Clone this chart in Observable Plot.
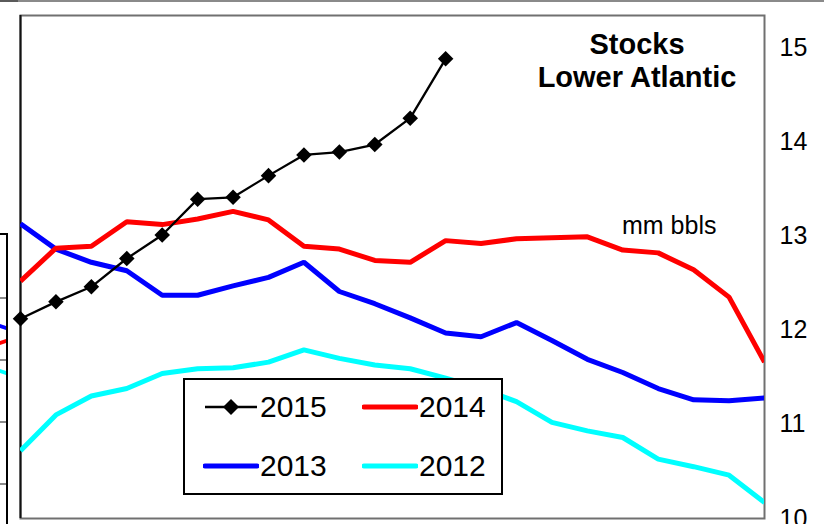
<!DOCTYPE html>
<html>
<head>
<meta charset="utf-8">
<script src="https://cdn.jsdelivr.net/npm/d3@7"></script>
<script src="https://cdn.jsdelivr.net/npm/@observablehq/plot@0.6"></script>
<style>
html, body { margin: 0; padding: 0; background: #fff; overflow: hidden; }
#wrap { position: relative; width: 824px; height: 524px; font-family: "Liberation Sans", Arial, sans-serif; color: #000; overflow: hidden; }
#wrap svg { display: block; }
.abs { position: absolute; }
#title { left: 637px; top: 28px; transform: translateX(-50%); font-weight: bold; font-size: 29px; line-height: 33px; text-align: center; white-space: nowrap; }
#unit { left: 622px; top: 211px; font-size: 25px; line-height: 28px; white-space: nowrap; }
#legend { left: 183px; top: 378px; width: 320px; height: 117px; box-sizing: border-box; border: 2px solid #000; background: #fff; }
#legend .item { position: absolute; height: 30px; }
#legend .item svg { position: absolute; left: 0; top: 0; }
#legend .item span { position: absolute; top: 0; font-size: 30px; line-height: 30px; white-space: nowrap; }
</style>
</head>
<body>
<div id="wrap"></div>
<script>
// ---- data ----
const weeks = [1, 2, 3, 4, 5, 6, 7, 8, 9, 10, 11, 12, 13, 14, 15, 16, 17, 18, 19, 20, 21, 22];
const seriesNames = ["2015", "2014", "2013", "2012"];
const seriesColors = ["#000000", "#FF0000", "#0000FF", "#00FFFF"];
const v2015 = [12.12, 12.30, 12.46, 12.76, 13.01, 13.39, 13.41, 13.64, 13.86, 13.89, 13.97, 14.25, 14.88];
const v2014 = [12.52, 12.87, 12.89, 13.15, 13.12, 13.18, 13.26, 13.17, 12.89, 12.86, 12.74, 12.72, 12.95, 12.92, 12.97, 12.98, 12.99, 12.85, 12.82, 12.64, 12.35, 11.66];
const v2013 = [13.13, 12.86, 12.72, 12.63, 12.37, 12.37, 12.47, 12.56, 12.72, 12.41, 12.28, 12.13, 11.97, 11.93, 12.08, 11.89, 11.69, 11.55, 11.38, 11.26, 11.25, 11.28];
const v2012 = [10.72, 11.10, 11.30, 11.38, 11.54, 11.59, 11.60, 11.66, 11.79, 11.70, 11.63, 11.59, 11.49, 11.38, 11.24, 11.02, 10.93, 10.86, 10.63, 10.55, 10.46, 10.17];
const yTicks = [10, 11, 12, 13, 14, 15];
const yDomain = [10, 15.34];
const titleLines = ["Stocks", "Lower Atlantic"];
const unitLabel = "mm bbls";

const toRows = (vals, name) => vals.map((v, i) => ({week: weeks[i], value: v, series: name}));
const r2015 = toRows(v2015, "2015");
const r2014 = toRows(v2014, "2014");
const r2013 = toRows(v2013, "2013");
const r2012 = toRows(v2012, "2012");

const chart = Plot.plot({
  width: 824,
  height: 524,
  marginLeft: 20,
  marginRight: 60,
  marginTop: 15,
  marginBottom: 6,
  style: {fontFamily: "'Liberation Sans', Arial, sans-serif", fontSize: "25px", color: "#000", background: "transparent"},
  x: {domain: [weeks[0], weeks[weeks.length - 1]], axis: null},
  y: {domain: yDomain, axis: "right", ticks: yTicks, tickSize: 0, tickPadding: 15, label: null, tickFormat: d => String(d)},
  marks: [
    Plot.frame({stroke: "#707070", strokeWidth: 2}),
    Plot.ruleX([weeks[0]], {stroke: "#111", strokeWidth: 2}),
    Plot.line(r2012, {x: "week", y: "value", stroke: seriesColors[3], strokeWidth: 5, strokeLinecap: "butt", strokeLinejoin: "miter", clip: true}),
    Plot.line(r2013, {x: "week", y: "value", stroke: seriesColors[2], strokeWidth: 5, strokeLinecap: "butt", strokeLinejoin: "miter", clip: true}),
    Plot.line(r2014, {x: "week", y: "value", stroke: seriesColors[1], strokeWidth: 5, strokeLinecap: "butt", strokeLinejoin: "miter", clip: true}),
    Plot.line(r2015, {x: "week", y: "value", stroke: seriesColors[0], strokeWidth: 2.3, clip: true}),
    Plot.dot(r2015, {x: "week", y: "value", symbol: "diamond2", r: 7, fill: seriesColors[0], stroke: "none"})
  ]
});

const wrap = document.getElementById("wrap");
wrap.appendChild(chart);

// decorations (page edges)
function addDiv(css) { const d = document.createElement("div"); d.className = "abs"; Object.assign(d.style, css); wrap.appendChild(d); return d; }
addDiv({left: "0px", top: "0px", width: "824px", height: "2px", background: "#8a8a8a"});
addDiv({left: "0px", top: "0px", width: "18px", height: "2px", background: "#5a5a5a"});
addDiv({left: "0px", top: "233px", width: "6px", height: "300px", borderTop: "2px solid #000", borderRight: "2px solid #000"});
[297, 359, 421, 483].forEach(t => addDiv({left: "0px", top: t + "px", width: "6px", height: "2px", background: "#8a8a8a"}));
addDiv({left: "0px", top: "325px", width: "6px", height: "4px", background: "#0000FF", transform: "skewY(20deg)"});
addDiv({left: "0px", top: "340px", width: "6px", height: "4px", background: "#FF0000", transform: "skewY(-20deg)"});
addDiv({left: "0px", top: "370px", width: "6px", height: "4px", background: "#00FFFF", transform: "skewY(20deg)"});

// title
const title = addDiv({});
title.id = "title";
title.innerHTML = titleLines.join("<br>");
const unit = addDiv({});
unit.id = "unit";
unit.textContent = unitLabel;

// legend
const legend = addDiv({});
legend.id = "legend";
const legendPos = [[18, 12], [177, 12], [18, 71], [177, 71]];
const legendOrder = [0, 1, 2, 3];
legendOrder.forEach((si, k) => {
  const [lx, ly] = legendPos[k];
  const item = document.createElement("div");
  item.className = "item";
  item.style.left = lx + "px";
  item.style.top = ly + "px";
  const isMarker = si === 0;
  const sw = isMarker ? 2.3 : 5;
  const svgNS = "http://www.w3.org/2000/svg";
  const s = document.createElementNS(svgNS, "svg");
  s.setAttribute("width", 56); s.setAttribute("height", 30);
  const ln = document.createElementNS(svgNS, "line");
  ln.setAttribute("x1", 2); ln.setAttribute("x2", 54); ln.setAttribute("y1", 15); ln.setAttribute("y2", 15);
  ln.setAttribute("stroke", seriesColors[si]); ln.setAttribute("stroke-width", sw);
  ln.setAttribute("stroke-linecap", isMarker ? "butt" : "round");
  s.appendChild(ln);
  if (isMarker) {
    const p = document.createElementNS(svgNS, "path");
    p.setAttribute("d", "M28,7 L36,15 L28,23 L20,15 Z");
    p.setAttribute("fill", seriesColors[si]);
    s.appendChild(p);
  }
  item.appendChild(s);
  const sp = document.createElement("span");
  sp.style.left = "57px";
  sp.textContent = seriesNames[si];
  item.appendChild(sp);
  legend.appendChild(item);
});
</script>
</body>
</html>
